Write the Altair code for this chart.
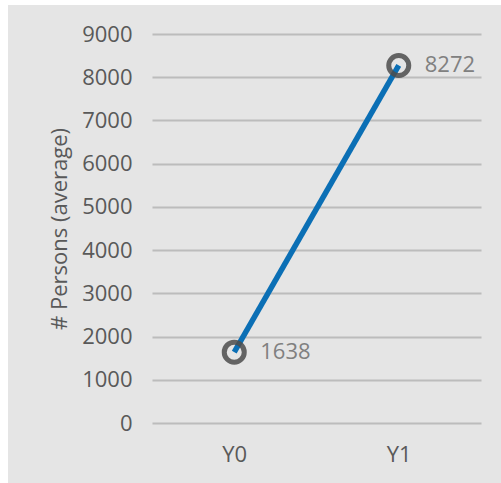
import altair as alt
import pandas as pd

# Average number of persons per period
periods = ["Y0", "Y1"]
persons = [1638, 8272]

df = pd.DataFrame({"period": periods, "persons": persons})

FONT = "Open Sans"
W, H = 329, 389  # plot area

x_enc = alt.X(
    "period:N",
    sort=periods,
    scale=alt.Scale(type="point", padding=0.5),
    axis=alt.Axis(
        title=None, domain=False, ticks=False, grid=False,
        labelAngle=0, labelFont=FONT, labelFontSize=22,
        labelColor="#595959", labelPadding=21,
    ),
)
y_enc = alt.Y(
    "persons:Q",
    scale=alt.Scale(domain=[0, 9000], nice=False),
    axis=alt.Axis(
        title="# Persons (average)", values=list(range(0, 9001, 1000)), format="d",
        domain=False, ticks=False, grid=True,
        gridColor="#bcbcbc", gridWidth=2,
        labelFont=FONT, labelFontSize=22, labelColor="#595959", labelPadding=20,
        titleFont=FONT, titleFontSize=22, titleFontWeight="normal",
        titleColor="#595959", titleAngle=-90, titleX=-86, titleY=H / 2,
        titleAlign="center", titleBaseline="alphabetic",
    ),
)

# white margin strips along the left and top edges of the grey panel
left_strip = alt.Chart(df).mark_rect(color="white").encode(
    x=alt.value(-152), x2=alt.value(-144), y=alt.value(-34), y2=alt.value(449)
)
top_strip = alt.Chart(df).mark_rect(color="white").encode(
    x=alt.value(-152), x2=alt.value(349), y=alt.value(-34), y2=alt.value(-29)
)

line = alt.Chart(df).mark_line(color="#0b6fb5", strokeWidth=5.5).encode(x=x_enc, y=y_enc)

rings = alt.Chart(df).mark_point(
    shape="circle", filled=False, size=400, stroke="#4d4d4d",
    strokeWidth=5, opacity=0.85,
).encode(x=x_enc, y=y_enc)

labels = alt.Chart(df).mark_text(
    align="left", baseline="middle", dx=26, font=FONT, fontSize=22, color="#808080",
).encode(x=x_enc, y=y_enc, text=alt.Text("persons:Q", format="d"))

chart = (
    alt.layer(left_strip, top_strip, line, rings, labels)
    .properties(
        width=W, height=H,
        autosize=alt.AutoSizeParams(type="none"),
        padding={"left": 152, "top": 34, "right": 20, "bottom": 60},
        background="#e5e5e5",
    )
    .configure_view(strokeWidth=0)
)

chart.save("out.html", embed_options={"renderer": "svg", "actions": False})
